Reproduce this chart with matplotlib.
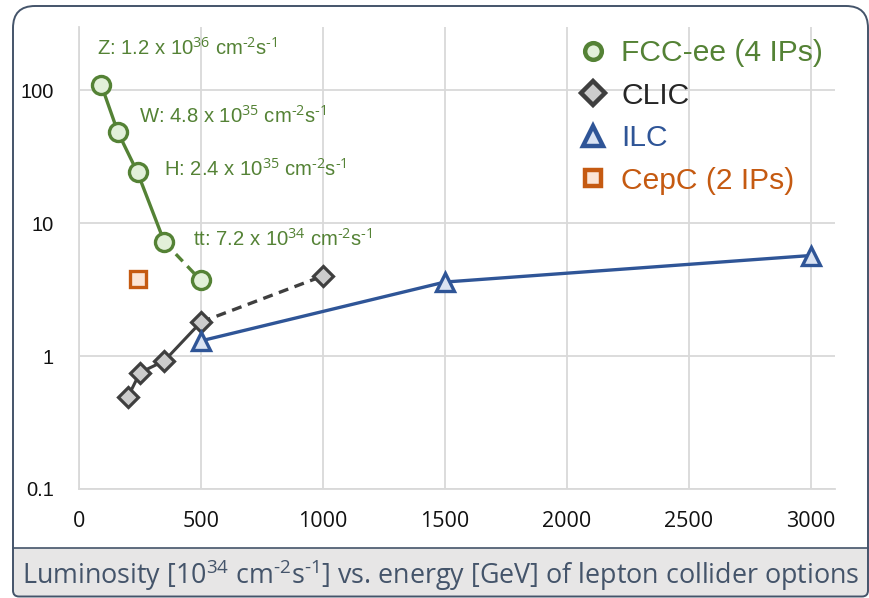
import numpy as np
import matplotlib
matplotlib.use("Agg")
import matplotlib.pyplot as plt
from matplotlib.path import Path
from matplotlib.patches import PathPatch
from matplotlib.lines import Line2D

# data (energy in GeV, luminosity in 1e34 cm^-2 s^-1)
fcc_energy = [91, 160, 240, 350, 500]
fcc_lumi = [110, 48, 24, 7.2, 3.7]
clic_energy = [200, 250, 350, 500, 1000]
clic_lumi = [0.49, 0.75, 0.92, 1.8, 4.0]
ilc_energy = [500, 1500, 3000]
ilc_lumi = [1.3, 3.6, 5.7]
cepc_energy = [240]
cepc_lumi = [3.8]

fcc_labels = [r"Z: 1.2 x 10$^{36}$ cm$^{\text{-2}}$s$^{\text{-1}}$",
              r"W: 4.8 x 10$^{35}$ cm$^{\text{-2}}$s$^{\text{-1}}$",
              r"H: 2.4 x 10$^{35}$ cm$^{\text{-2}}$s$^{\text{-1}}$",
              r"tt: 7.2 x 10$^{34}$ cm$^{\text{-2}}$s$^{\text{-1}}$"]
label_offsets = [(-4, 37), (21, 17), (26, 4), (29, 3)]

legend_names = ["FCC-ee (4 IPs)", "CLIC", "ILC", "CepC (2 IPs)"]
xticks = [0, 500, 1000, 1500, 2000, 2500, 3000]
yticks = [0.1, 1, 10, 100]
ytick_labels = ["0.1", "1", "10", "100"]

GREEN, GREEN_F = "#548235", "#e2f0d9"
DARK, DARK_F = "#3f3f3f", "#cccccc"
BLUE, BLUE_F = "#2f5597", "#dae3f3"
ORANGE, ORANGE_F = "#c55a11", "#fbe5d6"
FRAME = "#44546a"

plt.rcParams["mathtext.fontset"] = "custom"
plt.rcParams["mathtext.rm"] = "Liberation Sans"
plt.rcParams["font.family"] = ["Liberation Sans", "DejaVu Sans"]

fig = plt.figure(figsize=(8.7, 5.98), dpi=100)
ax = fig.add_axes([0.0908, 0.1823, 0.869, 0.7725])

ax.set_yscale("log")
ax.set_xlim(0, 3100)
ax.set_ylim(0.1, 298)

# lines
ax.plot(fcc_energy[:4], fcc_lumi[:4], color=GREEN, lw=2.4, zorder=3)
ax.plot(fcc_energy[3:], fcc_lumi[3:], color=GREEN, lw=2.4, ls=(0, (3, 2)), zorder=3)
ax.plot(clic_energy[:4], clic_lumi[:4], color=DARK, lw=2.2, zorder=3)
ax.plot(clic_energy[3:], clic_lumi[3:], color=DARK, lw=2.4, ls=(0, (3, 2)), zorder=3)
ax.plot(ilc_energy, ilc_lumi, color=BLUE, lw=2.4, zorder=4)

# markers
mk = dict(ls="none", zorder=5)
ax.plot(fcc_energy, fcc_lumi, marker="o", ms=13, mfc=GREEN_F, mec=GREEN, mew=2.4, **mk)
ax.plot(clic_energy, clic_lumi, marker="D", ms=10, mfc=DARK_F, mec=DARK, mew=2.3, **mk)
ax.plot(ilc_energy, ilc_lumi, marker="^", ms=13, mfc=BLUE_F, mec=BLUE, mew=2.4, **mk)
ax.plot(cepc_energy, cepc_lumi, marker="s", ms=12, mfc=ORANGE_F, mec=ORANGE, mew=2.4, **mk)

for e, l, txt, off in zip(fcc_energy, fcc_lumi, fcc_labels, label_offsets):
    ax.annotate(txt, (e, l), xytext=off, textcoords="offset pixels",
                ha="left", va="center", color=GREEN, fontsize=14.6)

# axes styling
ax.set_xticks(xticks)
ax.set_yticks(yticks)
ax.set_yticklabels(ytick_labels)
ax.yaxis.set_minor_locator(matplotlib.ticker.NullLocator())
ax.tick_params(length=0)
ax.tick_params(axis="y", pad=18, labelsize=14.5, labelcolor="#111111")
ax.tick_params(axis="x", pad=16, labelsize=15.5, labelcolor="#111111")
for lab in ax.get_xticklabels():
    lab.set_fontfamily("Open Sans")
ax.grid(True, color="#d9d9d9", lw=1.3)
ax.set_axisbelow(True)
for s in ["top", "right"]:
    ax.spines[s].set_visible(False)
for s in ["left", "bottom"]:
    ax.spines[s].set_color("#d9d9d9")
    ax.spines[s].set_linewidth(1.3)

handles = [
    Line2D([], [], ls="none", marker="o", ms=12, mfc=GREEN_F, mec=GREEN, mew=3.2),
    Line2D([], [], ls="none", marker="D", ms=12, mfc=DARK_F, mec=DARK, mew=3.2),
    Line2D([], [], ls="none", marker="^", ms=14, mfc=BLUE_F, mec=BLUE, mew=3.2),
    Line2D([], [], ls="none", marker="s", ms=12, mfc=ORANGE_F, mec=ORANGE, mew=3.2),
]
leg = ax.legend(handles, legend_names, loc="upper right", bbox_to_anchor=(1.008, 1.012),
                frameon=False, fontsize=21.6, handlelength=0.9, handletextpad=0.5,
                labelspacing=0.48, borderaxespad=0.2,
                labelcolor=[GREEN, "#262626", BLUE, ORANGE])

# frame and caption band (inches)
W, H = 8.7, 5.98
x0, x1, y0, y1, yb = 0.13, 8.68, 0.015, 5.92, 0.50
rt, rb = 0.22, 0.06


def frame_path(top_y, top_r):
    verts = [(x0 + rb, y0), (x1 - rb, y0), (x1, y0), (x1, y0 + rb),
             (x1, top_y - top_r), (x1, top_y), (x1 - top_r, top_y),
             (x0 + top_r, top_y), (x0, top_y), (x0, top_y - top_r),
             (x0, y0 + rb), (x0, y0), (x0 + rb, y0), (x0 + rb, y0)]
    codes = [Path.MOVETO, Path.LINETO, Path.CURVE3, Path.CURVE3,
             Path.LINETO, Path.CURVE3, Path.CURVE3,
             Path.LINETO, Path.CURVE3, Path.CURVE3,
             Path.LINETO, Path.CURVE3, Path.CURVE3, Path.CLOSEPOLY]
    return Path(verts, codes)


band = PathPatch(frame_path(yb, 0.0001), transform=fig.dpi_scale_trans,
                 facecolor="#e7e6e6", edgecolor="none", zorder=0)
fig.patches.append(band)
fig.add_artist(Line2D([x0, x1], [yb, yb], transform=fig.dpi_scale_trans,
                      color=FRAME, lw=1.2))
outline = PathPatch(frame_path(y1, rt), transform=fig.dpi_scale_trans,
                    facecolor="none", edgecolor=FRAME, lw=1.4, zorder=1)
fig.add_artist(outline)

plt.rcParams["mathtext.rm"] = "Open Sans"
fig.text((x0 + x1) / 2 / W, 0.23 / H,
         r"Luminosity [10$^{34}$ cm$^{\text{-2}}$s$^{\text{-1}}$] vs. energy [GeV] of lepton collider options",
         ha="center", va="center", fontsize=19.4, color=FRAME, family="Open Sans")

fig.savefig("out.png", dpi=100)
